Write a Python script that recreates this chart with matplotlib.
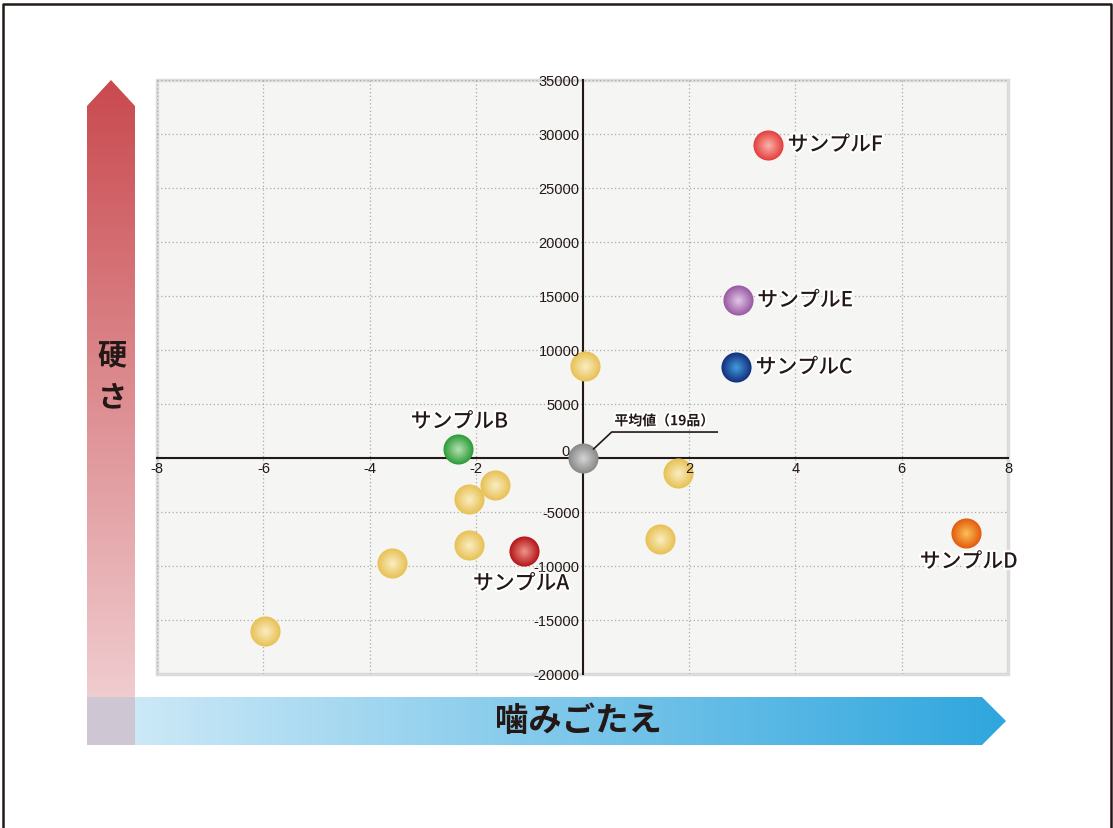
import matplotlib
matplotlib.use('Agg')
import matplotlib.pyplot as plt
import matplotlib.colors as mcolors
import matplotlib.patheffects as pe
import matplotlib.transforms as mtransforms
from matplotlib.patches import Polygon, Rectangle
from matplotlib.lines import Line2D
import numpy as np

plt.rcParams['font.family'] = ['Noto Sans CJK JP', 'DejaVu Sans']

# Data
x_ticks = [-8, -6, -4, -2, 0, 2, 4, 6, 8]
y_ticks = [-20000, -15000, -10000, -5000, 0, 5000, 10000, 15000, 20000, 25000, 30000, 35000]

mean_x = 0.0
mean_y = 0.0
mean_label = '平均値（19品）'

other_x = [0.05, 1.80, -1.65, -2.13, -2.13, 1.46, -3.58, -5.97]
other_y = [8500, -1400, -2500, -3800, -8100, -7500, -9700, -16000]

sample_names = ['サンプルA', 'サンプルB', 'サンプルC', 'サンプルD', 'サンプルE', 'サンプルF']
sample_x = [-1.10, -2.34, 2.89, 7.21, 2.92, 3.49]
sample_y = [-8600, 800, 8400, -6900, 14600, 29000]

x_title = '噛みごたえ'
y_title = ['硬', 'さ']

# styles (edge colour, highlight colour)
sample_colors = [('#b5181c', '#ec8f84'), ('#2e9d3b', '#b0dfac'), ('#15317e', '#3f97d8'),
                 ('#e45d0e', '#fbbb55'), ('#9a5aa5', '#dec2e2'), ('#e5403f', '#f8aea6')]
label_offsets = [((-2, -23.5), 'center'), ((1, 20), 'center'), ((14, 0), 'left'),
                 ((2, -21), 'center'), ((14, 0), 'left'), ((14, 0), 'left')]
DARK = '#231815'


def draw_balls(ax, xs, ys, edge, center, size=470, n=16, z=5):
    e = np.array(mcolors.to_rgb(edge))
    c = np.array(mcolors.to_rgb(center))
    for i in range(n):
        t = i / (n - 1)
        ax.scatter(xs, ys, s=size * (1 - 0.92 * t) ** 2, color=e * (1 - t) + c * t,
                   linewidths=0, zorder=z + i * 0.01)


fig = plt.figure(figsize=(11.13, 8.29), dpi=100)

# background decoration layer in pixel coordinates
bg = fig.add_axes([0, 0, 1, 1], zorder=-1)
bg.axis('off')

red_poly = Polygon([(87, 746), (87, 107), (111, 81), (135, 107), (135, 746)], closed=True,
                   facecolor='none', edgecolor='none')
bg.add_patch(red_poly)
red_top = np.array(mcolors.to_rgb('#c94a4f'))
red_bot = np.array(mcolors.to_rgb('#f3d6d9'))
red_grad = np.linspace(0, 1, 256)[:, None, None] * (red_bot - red_top) + red_top
im = bg.imshow(red_grad, extent=[87, 135, 746, 81], origin='upper', aspect='auto')
im.set_clip_path(red_poly)

blue_poly = Polygon([(87, 698), (982, 698), (1006, 722), (982, 746), (87, 746)], closed=True,
                    facecolor='none', edgecolor='none')
bg.add_patch(blue_poly)
blue_l = np.array(mcolors.to_rgb('#d4ecf8'))
blue_r = np.array(mcolors.to_rgb('#2fa6de'))
blue_grad = np.linspace(0, 1, 256)[None, :, None] * (blue_r - blue_l) + blue_l
im2 = bg.imshow(blue_grad, extent=[87, 1006, 746, 698], origin='upper', aspect='auto')
im2.set_clip_path(blue_poly)
bg.add_patch(Rectangle((87, 698), 48, 48, facecolor='#cec6d3', edgecolor='none', zorder=3))

bg.set_xlim(0, 1113)
bg.set_ylim(829, 0)

bg.text(112, 355, y_title[0], ha='center', va='center', fontsize=21, fontweight='bold', color=DARK)
bg.text(112, 397, y_title[1], ha='center', va='center', fontsize=21, fontweight='bold', color=DARK)
bg.text(578, 721, x_title, ha='center', va='center', fontsize=24, fontweight='bold', color=DARK)

# outer frame
bg.add_line(Line2D([3, 3, 1111, 1111], [829, 5, 5, 829], color=DARK, lw=1.8))

# main chart
ax = fig.add_axes([157 / 1113, 1 - 675 / 829, 851 / 1113, 594 / 829])
ax.set_facecolor('#f5f5f3')
ax.set_xlim(-8, 8)
ax.set_ylim(-20000, 35000)

for s in ['top', 'right']:
    ax.spines[s].set_visible(False)
ax.spines['left'].set_position(('data', 0))
ax.spines['bottom'].set_position(('data', 0))
for s in ['left', 'bottom']:
    ax.spines[s].set_color(DARK)
    ax.spines[s].set_linewidth(1.5)
ax.add_patch(Rectangle((0, 0), 1, 1, transform=ax.transAxes, fill=False,
                       edgecolor='#dcdcdc', lw=2.5, clip_on=False, zorder=0.2))

# dotted grid drawn by hand so tick labels can sit above the balls
for v in x_ticks:
    ax.axvline(v, color='#aaaaaa', lw=0.9, linestyle=(0, (1, 2)), zorder=0.5)
for v in y_ticks:
    ax.axhline(v, color='#aaaaaa', lw=0.9, linestyle=(0, (1, 2)), zorder=0.5)

ax.set_xticks(x_ticks)
ax.set_yticks(y_ticks)
ax.set_xticklabels(['' if v == 0 else str(v) for v in x_ticks])
ax.set_yticklabels(['' if v == 0 else str(v) for v in y_ticks])
ax.tick_params(length=0, pad=2, labelsize=10.5, labelcolor=DARK)
for lbl in ax.get_xticklabels() + ax.get_yticklabels():
    lbl.set_family('Liberation Sans')
ax.xaxis.set_zorder(7)
ax.yaxis.set_zorder(7)
ax.text(-0.25, 0, '0', ha='right', va='bottom', fontsize=10.5, color=DARK,
        family='Liberation Sans', zorder=7)

# balls
draw_balls(ax, other_x, other_y, '#e8c257', '#f9ebbd')
draw_balls(ax, [mean_x], [mean_y], '#8a8a8a', '#d2d2d2')
for i, name in enumerate(sample_names):
    draw_balls(ax, [sample_x[i]], [sample_y[i]], *sample_colors[i])
    off, ha = label_offsets[i]
    ax.annotate(name, (sample_x[i], sample_y[i]), xytext=off, textcoords='offset points',
                ha=ha, va='center', fontsize=15, fontweight='medium', color=DARK, zorder=8,
                path_effects=[pe.withStroke(linewidth=3, foreground='white')])

# mean label with leader line (offsets in points from the mean point)
leader_tr = mtransforms.Affine2D().scale(fig.dpi / 72) + \
    mtransforms.ScaledTranslation(mean_x, mean_y, ax.transData)
ax.add_line(Line2D([8, 21, 97], [6.5, 18.7, 18.7], transform=leader_tr, color=DARK, lw=1.2,
                   zorder=7))
ax.annotate(mean_label, (mean_x, mean_y), xytext=(23, 26.5), textcoords='offset points',
            ha='left', va='center', fontsize=10, fontweight='bold', color=DARK, zorder=8,
            path_effects=[pe.withStroke(linewidth=3, foreground='white')])

plt.savefig('out.png', dpi=100)
